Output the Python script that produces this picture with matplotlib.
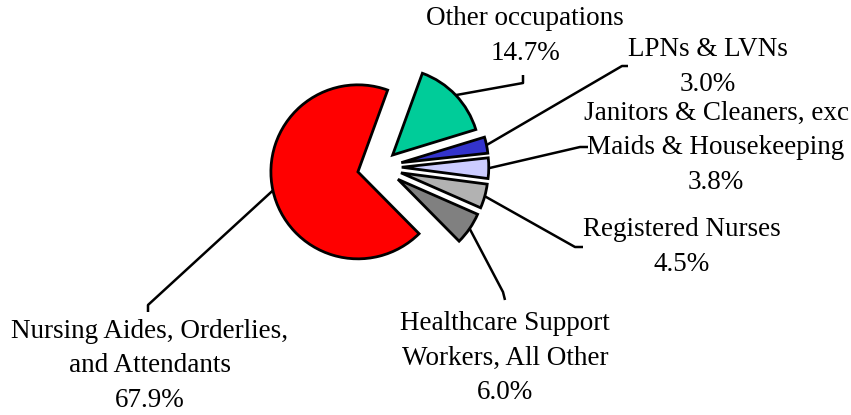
import numpy as np
import matplotlib
matplotlib.use("Agg")
import matplotlib.pyplot as plt

W, H = 851, 415

occupations = ["Nursing Aides, Orderlies,\nand Attendants",
               "Healthcare Support\nWorkers, All Other",
               "Registered Nurses",
               "Janitors & Cleaners, exc\nMaids & Housekeeping",
               "LPNs & LVNs",
               "Other occupations"]
shares = [67.9, 6.0, 4.5, 3.8, 3.0, 14.7]
colors = ["#ff0000", "#808080", "#b2b2b2", "#ccccff", "#3333cc", "#00cc99"]
explode = [0.26, 0.25, 0.25, 0.25, 0.25, 0.2]

# label centres and leader-line elbows, in image pixels (y down)
label_xy = [(150, 366), (505, 358), (682, 247), (716, 148), (708, 67), (525, 36)]
elbow_xy = [(148, 305), (503, 292), (575, 247), (580, 147), (622, 66), (523, 83)]
tail_xy = [(148, 312), (505, 300), (583, 247), (588, 147), (628, 66), (523, 75)]

RADIUS = 87
CENTER = (380, 167)


def flip(p):
    return (p[0], H - p[1])


plt.rcParams["font.family"] = ["Liberation Serif", "DejaVu Serif"]
fig = plt.figure(figsize=(W / 100, H / 100), dpi=100)
ax = fig.add_axes([0, 0, 1, 1])

# matplotlib offsets wedges by explode in data units, so scale by the radius
wedges, _ = ax.pie(shares, colors=colors,
                   explode=[e * RADIUS for e in explode], startangle=70,
                   radius=RADIUS, center=flip(CENTER), frame=True,
                   wedgeprops=dict(edgecolor="black", linewidth=2.0))
ax.set_xlim(0, W)
ax.set_ylim(0, H)
ax.set_aspect("equal")
ax.axis("off")

for w, name, share, lab, elb, tail in zip(wedges, occupations, shares,
                                          label_xy, elbow_xy, tail_xy):
    mid = np.deg2rad((w.theta1 + w.theta2) / 2)
    sx = w.center[0] + w.r * np.cos(mid)
    sy = w.center[1] + w.r * np.sin(mid)
    e = flip(elb)
    t = flip(tail)
    ax.plot([sx, e[0], t[0]], [sy, e[1], t[1]], color="black", lw=1.8,
            solid_capstyle="butt", solid_joinstyle="round")
    lx, ly = flip(lab)
    ax.text(lx, ly, f"{name}\n{share:.1f}%", ha="center", va="center",
            fontsize=19.5, linespacing=1.5, color="black")

fig.savefig("out.png", dpi=100, facecolor="white")
